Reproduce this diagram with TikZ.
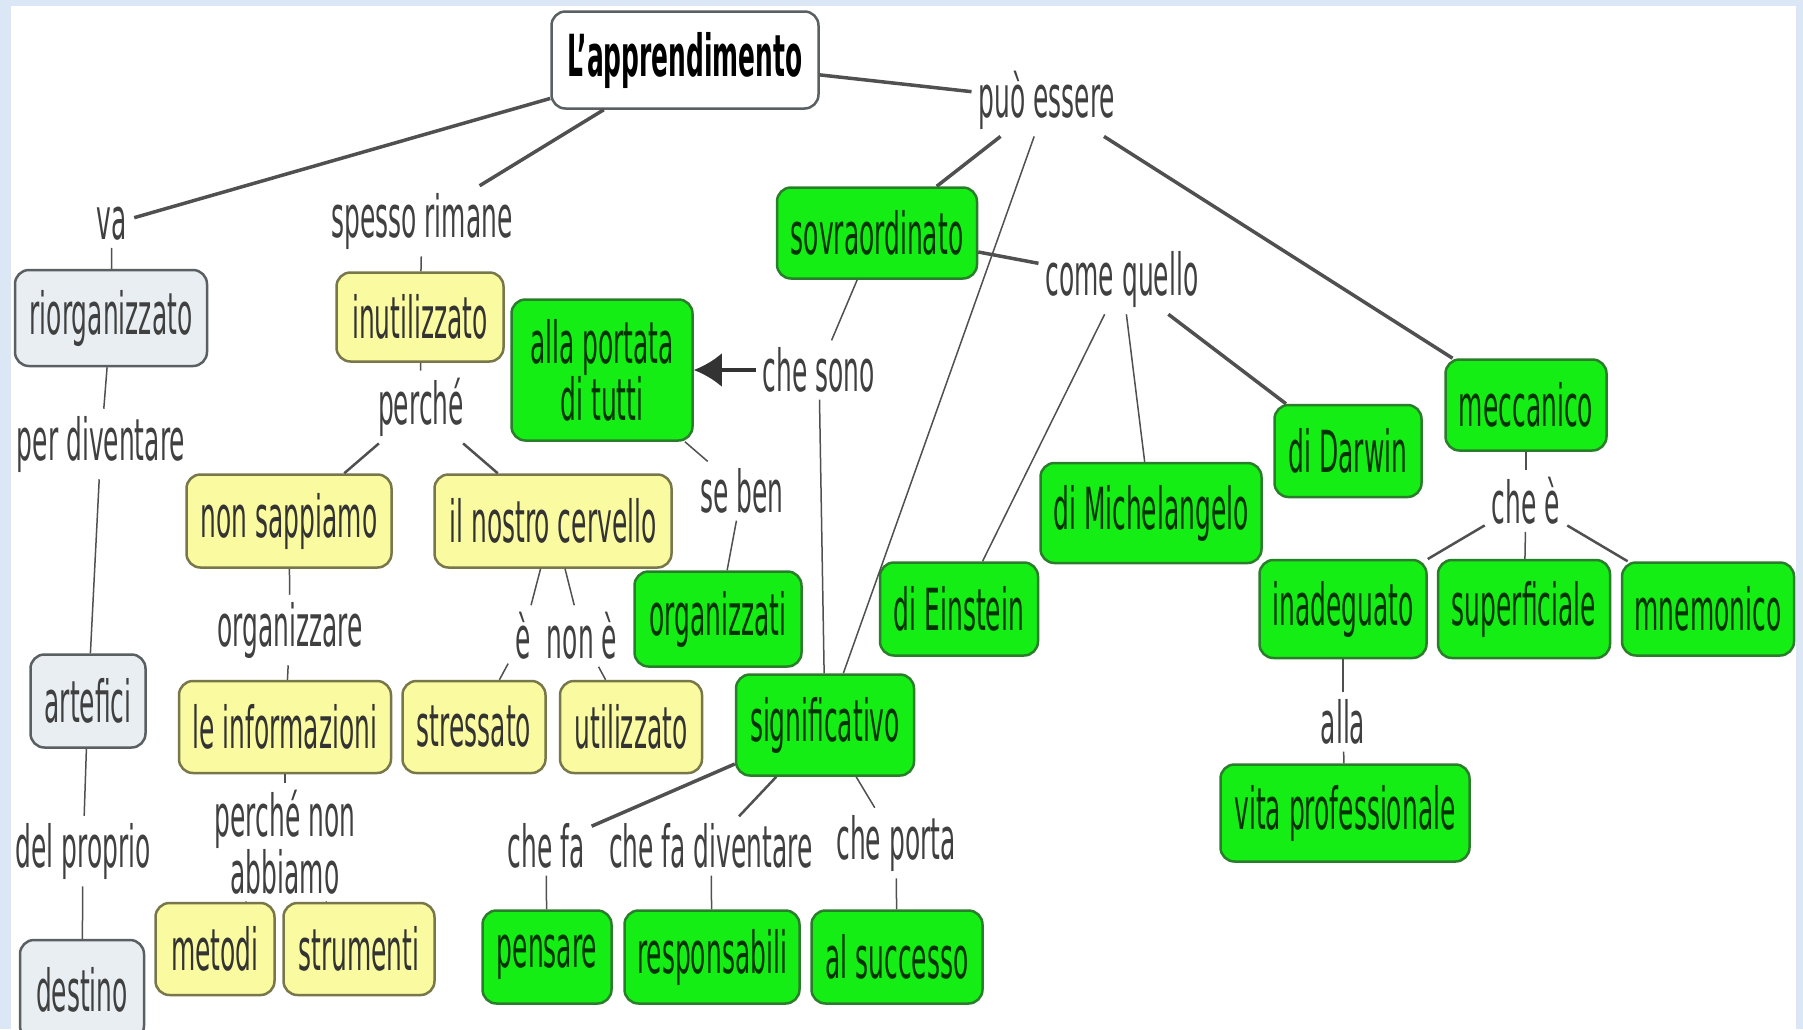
\documentclass[tikz,border=0pt]{standalone}
\usepackage{fontspec}
\setmainfont{DejaVu Sans}[FakeStretch=0.43]
\usetikzlibrary{arrows.meta}
\definecolor{cornice}{HTML}{DBE7F5}
\definecolor{verde}{HTML}{14EE14}
\definecolor{verdescuro}{HTML}{2A7D2A}
\definecolor{giallo}{HTML}{FAFAA0}
\definecolor{giallobordo}{HTML}{77774A}
\definecolor{grigio}{HTML}{E8EEF1}
\definecolor{grigiobordo}{HTML}{5A5F62}
\definecolor{linea}{HTML}{505050}
\tikzset{
  concetto/.style={rectangle, rounded corners=14pt, line width=2.5pt, align=center,
    inner sep=4pt, font=\fontsize{58}{50}\selectfont},
  box/.style 2 args={minimum width=#1, minimum height=#2},
  cverde/.style={concetto, fill=verde, draw=verdescuro, text=green!20!black},
  cgiallo/.style={concetto, fill=giallo, draw=giallobordo, text=black!80},
  cgrigio/.style={concetto, fill=grigio, draw=grigiobordo, text=black!75},
  frase/.style={inner sep=7pt, align=center, text=black!75, font=\fontsize{58}{48}\selectfont},
  sottile/.style={draw=linea, line width=1.5pt},
  medio/.style={draw=linea, line width=2.5pt},
  spesso/.style={draw=linea, line width=3.5pt}
}

\begin{document}
\begin{tikzpicture}[x=1pt, y=-1pt]
  \useasboundingbox (0,0) rectangle (1803,1029);
  \fill[cornice] (0,0) rectangle (1803,1029);
  \fill[white] (11,6) rectangle (1796,1029);

  \node[concetto, fill=white, draw=grigiobordo, box={267}{97}, font=\fontsize{58}{50}\selectfont\bfseries] (app) at (685,60) {L'apprendimento};
  \node[frase] (puo) at (1047,100) {può essere} edge[spesso] (app);
  \node[frase] (va) at (112,224) {va} edge[spesso] (app);
  \node[frase] (spes) at (422,221) {spesso rimane} edge[spesso] (app);

  \node[cgrigio, box={192}{96}] (rior) at (111,318) {riorganizzato} edge[sottile] (va);
  \node[cgiallo, box={167}{89}] (inut) at (420,317) {inutilizzato} edge[sottile] (spes);
  \node[cverde, box={200}{91}] (sovr) at (877,233) {sovraordinato} edge[spesso] (puo);
  \node[frase] (come) at (1122,279) {come quello} edge[spesso] (sovr);
  \node[frase] (chso) at (819,370) {che sono} edge[sottile] (sovr);
  \node[cverde, box={181}{141}] (port) at (602,370) {alla portata\\di tutti};
  \draw[draw=black!80, line width=4pt, -{Latex[length=28pt, width=34pt]}] (chso) -- (port);

  \node[frase] (perd) at (101,444) {per diventare} edge[sottile] (rior);
  \node[frase] (perc) at (421,407) {perché} edge[sottile] (inut);
  \node[cgiallo, box={205}{93}] (nons) at (289,521) {non sappiamo} edge[medio] (perc);
  \node[cgiallo, box={237}{93}] (cerv) at (553,521) {il nostro cervello} edge[medio] (perc);
  \node[frase] (seb) at (742,491) {se ben} edge[sottile] (port);
  \node[cverde, box={167}{95}] (orgz) at (718,619) {organizzati} edge[sottile] (seb);

  \node[cverde, box={161}{91}] (mecc) at (1526,405) {meccanico} edge[spesso] (puo);
  \node[cverde, box={147}{92}] (darw) at (1348,451) {di Darwin} edge[spesso] (come);
  \node[cverde, box={221}{100}] (mich) at (1151,513) {di Michelangelo} edge[sottile] (come);
  \node[cverde, box={158}{93}] (eins) at (959,609) {di Einstein} edge[sottile] (come);
  \node[frase] (chee) at (1526,501) {che è} edge[sottile] (mecc);
  \node[cverde, box={167}{98}] (inad) at (1343,609) {inadeguato} edge[medio] (chee);
  \node[cverde, box={172}{98}] (supe) at (1524,609) {superficiale} edge[sottile] (chee);
  \node[cverde, box={172}{93}] (mnem) at (1708,609) {mnemonico} edge[medio] (chee);
  \node[frase] (alla) at (1343,722) {alla} edge[sottile] (inad);
  \node[cverde, box={249}{97}] (vita) at (1345,813) {vita professionale} edge[sottile] (alla);

  \node[frase] (orgn) at (290,630) {organizzare} edge[sottile] (nons);
  \node[frase] (e) at (523,636) {è} edge[sottile] (cerv);
  \node[frase] (none) at (582,636) {non è} edge[sottile] (cerv);
  \node[cgrigio, box={115}{93}] (artf) at (88,701) {artefici} edge[sottile] (perd);
  \node[cgiallo, box={212}{92}] (info) at (285,727) {le informazioni} edge[sottile] (orgn);
  \node[cgiallo, box={143}{92}] (stre) at (474,727) {stressato} edge[sottile] (e);
  \node[cgiallo, box={142}{92}] (util) at (631,727) {utilizzato} edge[sottile] (none);
  \node[cverde, box={178}{101}] (sign) at (825,725) {significativo}
    edge[sottile] (chso) edge[sottile] (puo);

  \node[frase] (delp) at (83,851) {del proprio} edge[sottile] (artf);
  \node[frase] (pna) at (285,842) {perché non\\abbiamo} edge[sottile] (info);
  \node[frase] (chfa) at (546,846) {che fa} edge[spesso] (sign);
  \node[frase] (chfd) at (711,846) {che fa diventare} edge[medio] (sign);
  \node[frase] (chpo) at (896,843) {che porta} edge[sottile] (sign);

  \node[cgrigio, box={124}{100}] (dest) at (82,990) {destino} edge[sottile] (delp);
  \node[cgiallo, box={119}{92}] (meto) at (215,949) {metodi} edge[sottile] (pna);
  \node[cgiallo, box={151}{92}] (stru) at (359,949) {strumenti} edge[sottile] (pna);
  \node[cverde, box={129}{93}] (pens) at (547,957) {pensare} edge[sottile] (chfa);
  \node[cverde, box={175}{93}] (resp) at (712,957) {responsabili} edge[sottile] (chfd);
  \node[cverde, box={171}{93}] (succ) at (897,957) {al successo} edge[sottile] (chpo);
\end{tikzpicture}
\end{document}
